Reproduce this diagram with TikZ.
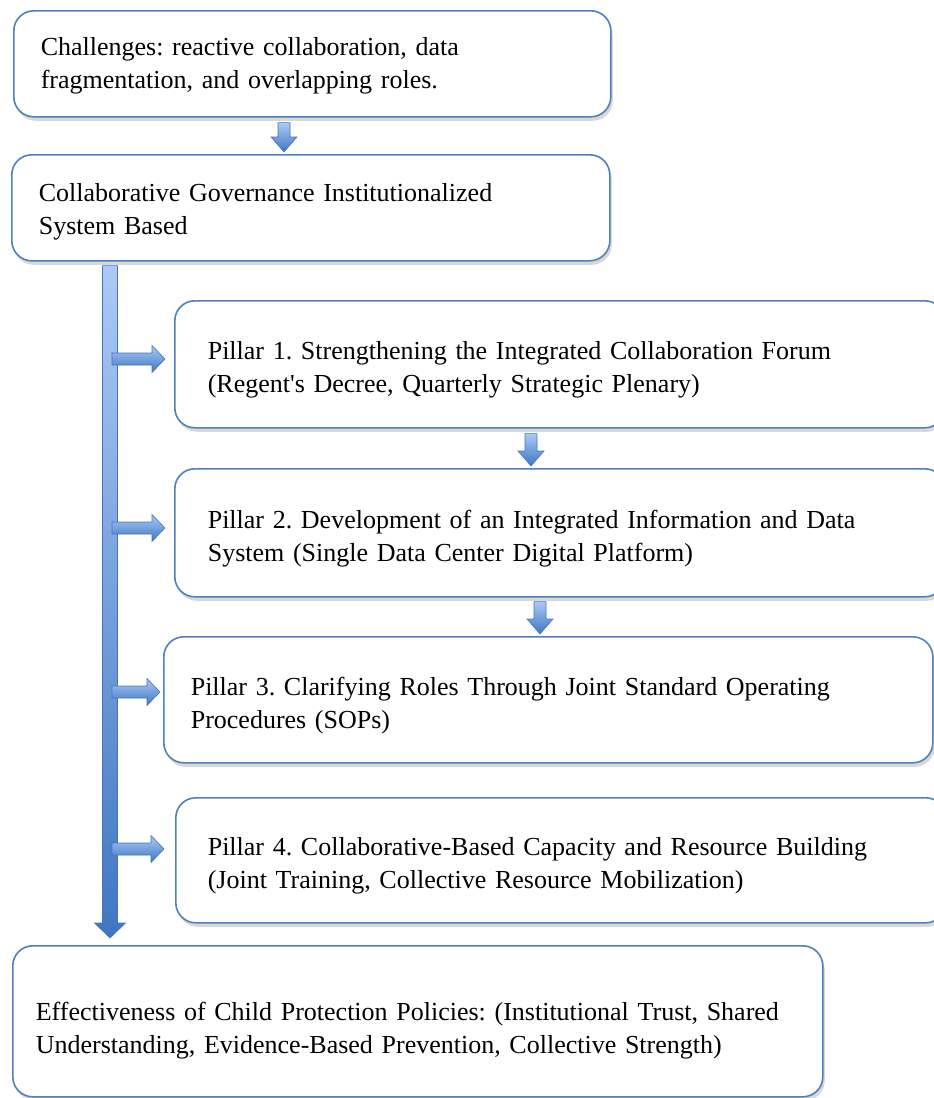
\documentclass[tikz,border=0pt]{standalone}
\usepackage{fontspec}
\setmainfont{Liberation Serif}
\usetikzlibrary{shadows,calc}
\definecolor{boxblue}{RGB}{79,129,189}
\definecolor{arrlight}{RGB}{170,202,246}
\definecolor{arrdark}{RGB}{64,118,194}
\definecolor{arredge}{RGB}{70,115,180}
\tikzset{
  box/.style={draw=boxblue, line width=1.6pt, rounded corners=20pt, fill=white,
    drop shadow={shadow xshift=2pt, shadow yshift=-4pt, opacity=0.22, fill=black!70},
    anchor=north west, align=left, font=\fontsize{26}{33}\selectfont, inner ysep=0pt},
  tdown/.style={execute at begin node={\leavevmode\rule{0pt}{#1}}},
  blockarrow/.style={draw=arredge, line width=0.6pt, top color=arrlight, bottom color=arrdark},
}
% vertical block arrow: #1 start, #2 tip, #3 shaft half width, #4 head half width, #5 head length
\newcommand\vblock[5]{\draw[blockarrow] let \p1=#1, \p2=#2 in
  (\x1-#3,\y1) -- (\x1+#3,\y1) -- (\x1+#3,\y2+#5) -- (\x1+#4,\y2+#5) -- (\x1,\y2)
  -- (\x1-#4,\y2+#5) -- (\x1-#3,\y2+#5) -- cycle;}
% horizontal block arrow (rightwards)
\newcommand\hblock[5]{\draw[blockarrow] let \p1=#1, \p2=#2 in
  (\x1,\y1+#3) -- (\x2-#5,\y1+#3) -- (\x2-#5,\y1+#4) -- (\x2,\y1) -- (\x2-#5,\y1-#4)
  -- (\x2-#5,\y1-#3) -- (\x1,\y1-#3) -- cycle;}
\frenchspacing
\begin{document}
\begin{tikzpicture}[x=1pt,y=-1pt]
\useasboundingbox (0,0) rectangle (934,1098);
\clip (0,0) rectangle (934,1098);
\node[box, tdown=23pt, minimum width=597pt, minimum height=106pt, inner xsep=27pt, text width=543pt] (b1) at (13,10)
  {Challenges: reactive collaboration, data\\fragmentation, and overlapping roles.};
\node[box, tdown=26pt, minimum width=598pt, minimum height=106pt, inner xsep=27pt, text width=544pt] (b2) at (11,154)
  {Collaborative Governance Institutionalized\\System Based};
\node[box, tdown=29pt, minimum width=770pt, minimum height=127pt, inner xsep=33pt, text width=704pt] (p1) at (174,300)
  {Pillar 1. Strengthening the Integrated Collaboration Forum\\(Regent\textquotesingle s Decree, Quarterly Strategic Plenary)};
\node[box, tdown=29pt, minimum width=770pt, minimum height=128pt, inner xsep=33pt, text width=704pt] (p2) at (174,468)
  {Pillar 2. Development of an Integrated Information and Data\\System (Single Data Center Digital Platform)};
\node[box, tdown=29pt, minimum width=769pt, minimum height=126pt, inner xsep=27pt, text width=715pt] (p3) at (163,636)
  {Pillar 3. Clarifying Roles Through Joint Standard Operating\\Procedures (SOPs)};
\node[box, tdown=28pt, minimum width=770pt, minimum height=125pt, inner xsep=32pt, text width=706pt] (p4) at (175,797)
  {Pillar 4. Collaborative-Based Capacity and Resource Building\\(Joint Training, Collective Resource Mobilization)};
\node[box, tdown=36pt, minimum width=810pt, minimum height=151pt, inner xsep=23pt, text width=764pt] (ef) at (12,945)
  {Effectiveness of Child Protection Policies: (Institutional Trust, Shared\\Understanding, Evidence-Based Prevention, Collective Strength)};
% small down arrows
\vblock{($(284,0 |- b1.south)+(0,5)$)}{($(284,0 |- b2.north)+(0,-2)$)}{6pt}{13pt}{15pt}
\vblock{($(531,0 |- p1.south)+(0,5)$)}{($(531,0 |- p2.north)+(0,-2)$)}{6pt}{13pt}{15pt}
\vblock{($(540,0 |- p2.south)+(0,4)$)}{($(540,0 |- p3.north)+(0,-2)$)}{6pt}{13pt}{15pt}
% main vertical arrow
\vblock{($(110,0 |- b2.south)+(0,4)$)}{($(110,0 |- ef.north)+(0,-7)$)}{7.5pt}{15.5pt}{15pt}
% side arrows
\coordinate (s1) at (112,359); \coordinate (s2) at (112,528); \coordinate (s3) at (112,692); \coordinate (s4) at (112,849);
\hblock{(s1)}{(165,0 |- s1)}{6pt}{13.5pt}{13pt}
\hblock{(s2)}{(165,0 |- s2)}{6pt}{13.5pt}{13pt}
\hblock{(s3)}{(160,0 |- s3)}{6pt}{13.5pt}{13pt}
\hblock{(s4)}{(164,0 |- s4)}{6pt}{13.5pt}{13pt}
\end{tikzpicture}
\end{document}
